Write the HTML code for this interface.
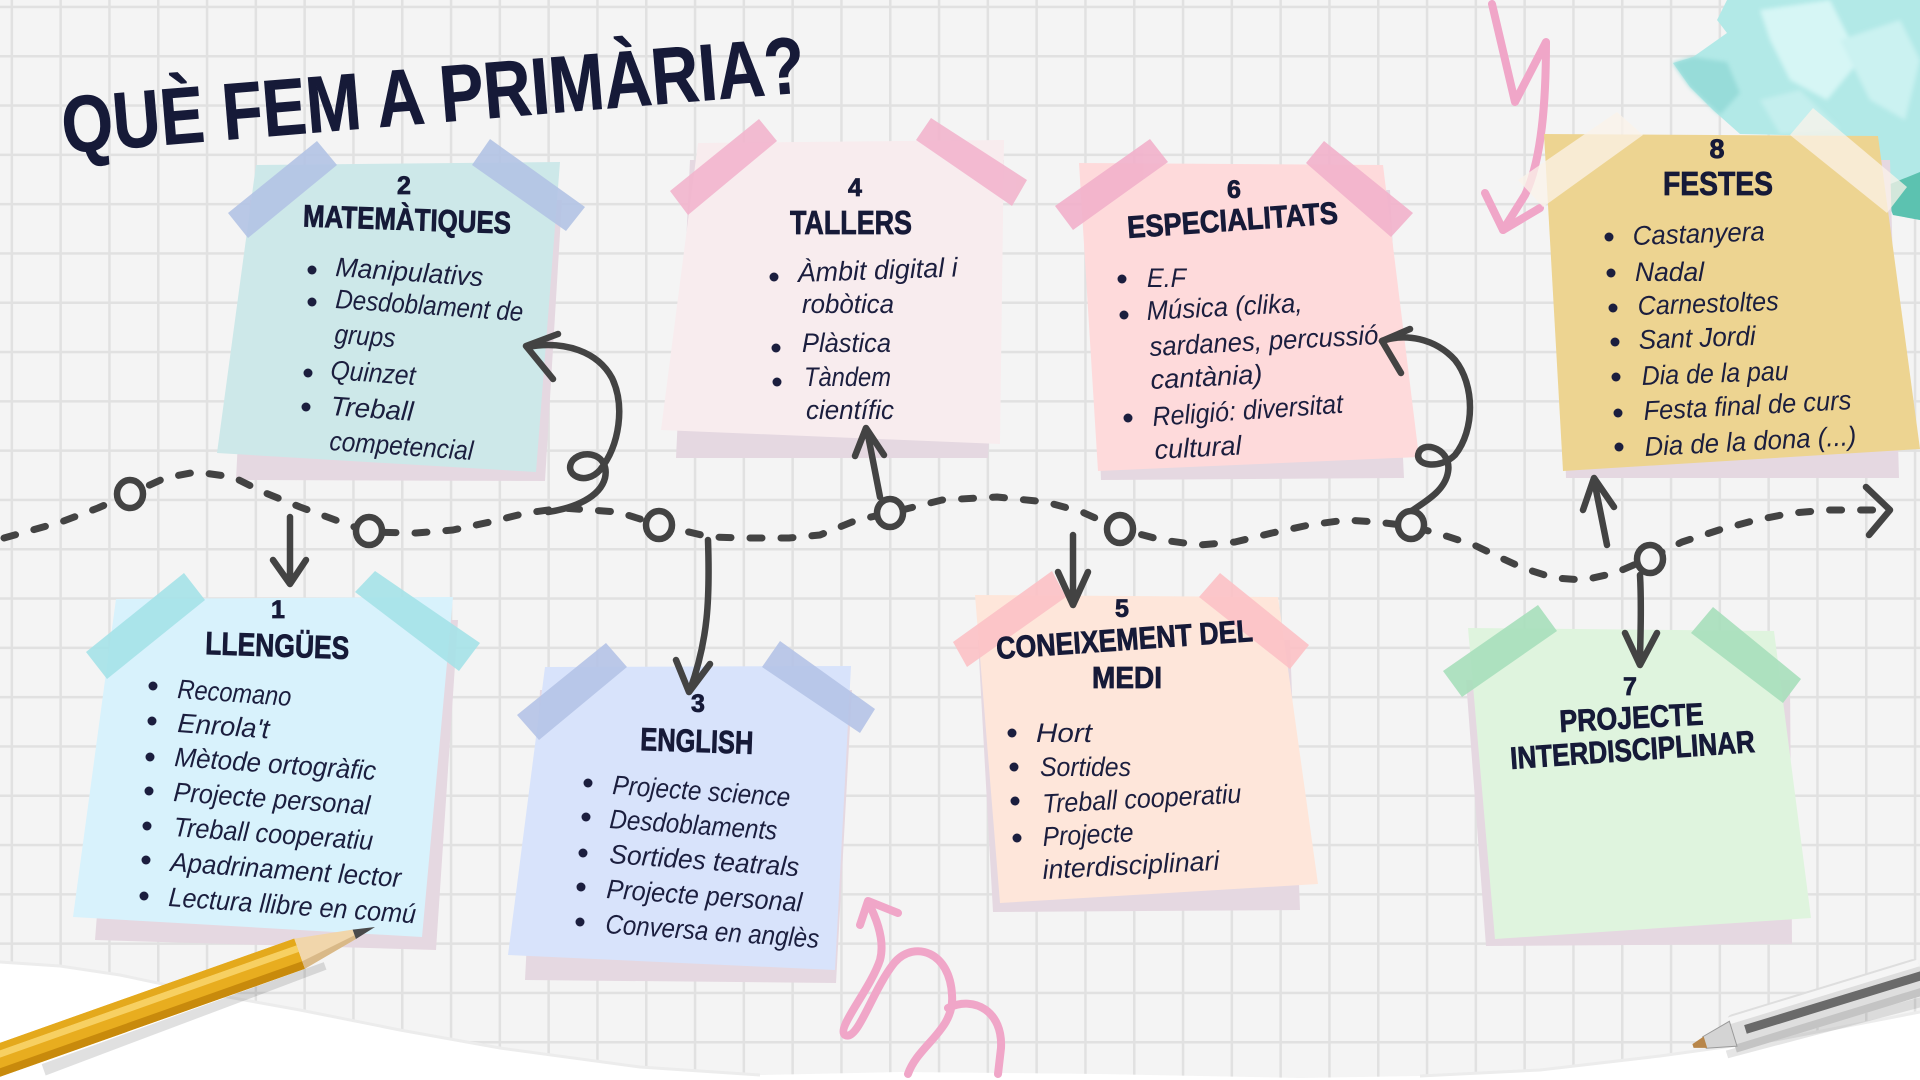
<!DOCTYPE html>
<html><head><meta charset="utf-8">
<style>
html,body{margin:0;padding:0;background:#f3f3f3;width:1920px;height:1080px;overflow:hidden;}
svg{display:block;}
.hd{font-family:"Liberation Sans",sans-serif;font-weight:bold;fill:#161a38;stroke:#161a38;stroke-width:0.8;}
.it{font-family:"Liberation Sans",sans-serif;font-style:italic;font-size:27px;fill:#1b1e3e;}
.bl{fill:#1b1e3e;}
.ln{fill:none;stroke:#434343;stroke-width:6.5;stroke-linecap:round;stroke-linejoin:round;}
.pk{fill:none;stroke:#f0a6c8;stroke-width:8;stroke-linecap:round;stroke-linejoin:round;}
.sh{fill:#e5d8e1;}
</style></head>
<body>
<svg width="1920" height="1080" viewBox="0 0 1920 1080" xmlns="http://www.w3.org/2000/svg">
<defs>
<pattern id="grid" x="10.6" y="5.7" width="48.8" height="49.3" patternUnits="userSpaceOnUse">
<path d="M0 1.25 H48.8 M1.25 0 V49.3" stroke="#e1e1e1" stroke-width="2.5" fill="none"/>
</pattern>
<filter id="soft" x="-10%" y="-10%" width="120%" height="120%"><feGaussianBlur stdDeviation="2"/></filter>
</defs>

<!-- background -->
<rect width="1920" height="1080" fill="#f4f4f4"/>
<rect width="1920" height="1080" fill="url(#grid)"/>

<!-- torn white bottom -->
<path d="M0,962 L60,966 L120,975 L200,992 L300,1010 L400,1030 L500,1048 L640,1067 L760,1075 L900,1072 L1100,1074 L1300,1078 L1420,1076 L1540,1070 L1660,1056 L1775,1040 L1920,1012 L1920,1080 L0,1080 Z" fill="#ffffff"/>
<path d="M0,962 L60,966 L120,975 L200,992 L300,1010 L400,1030 L500,1048 L640,1067 L760,1075 M1420,1076 L1540,1070 L1660,1056 L1775,1040 L1920,1012" fill="none" stroke="#ececec" stroke-width="3"/>

<!-- crumpled teal paper -->
<path d="M1727,0 L1920,0 L1920,220 L1893,215 L1882,190 L1878,137 L1740,134 L1713,110 L1690,87 L1673,63 L1693,57 L1727,33 L1717,20 Z" fill="#b2e9e7"/>
<g filter="url(#soft)">
<path d="M1760,10 L1830,0 L1860,60 L1827,100 L1790,80 L1770,40 Z" fill="#d6f6f5"/>
<path d="M1673,63 L1693,57 L1727,62 L1740,93 L1720,115 L1690,87 Z" fill="#97dcd9"/>
<path d="M1840,40 L1900,20 L1920,60 L1905,120 L1870,100 Z" fill="#cbf2f1"/>
<path d="M1760,100 L1800,90 L1840,130 L1780,134 Z" fill="#c4efee"/>
</g>
<path d="M1883,187 L1920,172 L1920,220 L1893,215 Z" fill="#5cc2b0"/>

<!-- pink arrow top -->
<path class="pk" d="M1492,4 L1515,102 L1546,42 C1546,100 1542,160 1525,195 L1503,230"/>
<path class="pk" d="M1485,193 L1503,230 L1540,208"/>

<!-- pink curl bottom -->
<path class="pk" d="M868,902 C880,925 884,945 880,960 C870,990 836,1028 845,1035 C858,1042 872,990 895,962 C915,940 950,952 952,995 C955,1030 918,1045 908,1074"/>
<path class="pk" d="M948,1008 C975,995 1003,1012 1001,1048 L998,1074"/>
<path class="pk" d="M860,925 L868,901 L898,913"/>

<!-- shadows -->
<polygon class="sh" points="120,620 458,620 436,950 95,940"/>
<polygon class="sh" points="250,200 562,200 545,481 236,480"/>
<polygon class="sh" points="540,690 852,690 836,983 525,980"/>
<polygon class="sh" points="690,160 1004,160 988,458 676,458"/>
<polygon class="sh" points="978,640 1290,640 1300,910 993,912"/>
<polygon class="sh" points="1090,190 1390,190 1404,478 1101,480"/>
<polygon class="sh" points="1466,680 1790,680 1792,944 1486,946"/>
<polygon class="sh" points="1555,160 1890,160 1899,478 1566,478"/>

<!-- notes -->
<polygon points="116,599 453,597 422,937 73,917" fill="#d8f2fc"/>
<polygon points="256,165 560,162 536,472 217,453" fill="#cde8e9"/>
<polygon points="545,667 851,666 835,970 508,955" fill="#d8e3fb"/>
<polygon points="698,143 1004,140 1000,444 661,430" fill="#f8ecee"/>
<polygon points="975,595 1278,597 1318,884 1000,903" fill="#fee6da"/>
<polygon points="1079,163 1383,165 1419,457 1098,471" fill="#fedadb"/>
<polygon points="1468,628 1774,631 1811,918 1495,939" fill="#dff4de"/>
<polygon points="1544,134 1878,136 1920,449 1563,471" fill="#edd491"/>

<!-- tapes -->
<g opacity="0.9">
<polygon points="86,652 184,573 205,600 107,679" fill="#a5e2e8"/>
<polygon points="355,592 375,571 480,643 459,671" fill="#a5e2e8"/>
<polygon points="228,213 317,141 337,165 248,238" fill="#b3c3e4"/>
<polygon points="472,165 490,139 585,207 566,231" fill="#b3c3e4"/>
<polygon points="517,715 606,643 627,667 539,740" fill="#b5c3e7"/>
<polygon points="762,667 780,641 875,709 860,733" fill="#b5c3e7"/>
<polygon points="670,191 759,119 777,141 688,215" fill="#f2b5cd"/>
<polygon points="916,140 931,118 1027,180 1012,206" fill="#f2b5cd"/>
<polygon points="953,642 1052,571 1066,597 967,667" fill="#fcc1c5"/>
<polygon points="1199,597 1220,573 1309,645 1290,669" fill="#fcc1c5"/>
<polygon points="1055,206 1150,139 1168,162 1073,230" fill="#f2b1cb"/>
<polygon points="1306,163 1324,141 1413,213 1391,237" fill="#f2b1cb"/>
<polygon points="1443,671 1538,605 1557,631 1462,697" fill="#a7dfbb"/>
<polygon points="1691,633 1713,607 1801,679 1783,703" fill="#a7dfbb"/>
</g>
<polygon points="1518,180 1617,112 1643,135 1543,207" fill="#fbf3ea" opacity="0.75"/>
<polygon points="1790,135 1813,108 1907,187 1887,213" fill="#fbf3ea" opacity="0.75"/>

<!-- title -->
<text class="hd" x="0" y="0" transform="translate(64,153) rotate(-4.7)" font-size="80" stroke-width="2" textLength="745" lengthAdjust="spacingAndGlyphs">QUÈ FEM A PRIMÀRIA?</text>

<!-- Note 2 -->
<text class="hd" x="404" y="194" font-size="25" text-anchor="middle">2</text>
<text class="hd" x="303" y="230" font-size="31" textLength="208" lengthAdjust="spacingAndGlyphs" transform="rotate(2 407 220)">MATEMÀTIQUES</text>
<circle class="bl" cx="312" cy="270" r="4.5"/>
<text class="it" x="335" y="276" textLength="148" lengthAdjust="spacingAndGlyphs" transform="rotate(4 335 276)">Manipulativs</text>
<circle class="bl" cx="312" cy="302" r="4.5"/>
<text class="it" x="335" y="308" textLength="188" lengthAdjust="spacingAndGlyphs" transform="rotate(4 335 308)">Desdoblament de</text>
<text class="it" x="334" y="343" textLength="61" lengthAdjust="spacingAndGlyphs" transform="rotate(4 334 343)">grups</text>
<circle class="bl" cx="308" cy="373" r="4.5"/>
<text class="it" x="330" y="379" textLength="85" lengthAdjust="spacingAndGlyphs" transform="rotate(4 330 379)">Quinzet</text>
<circle class="bl" cx="306" cy="407" r="4.5"/>
<text class="it" x="330" y="415" textLength="83" lengthAdjust="spacingAndGlyphs" transform="rotate(4 330 415)">Treball</text>
<text class="it" x="329" y="450" textLength="144" lengthAdjust="spacingAndGlyphs" transform="rotate(4 329 450)">competencial</text>

<!-- Note 4 -->
<text class="hd" x="855" y="196" font-size="25" text-anchor="middle">4</text>
<text class="hd" x="790" y="234" font-size="33" textLength="122" lengthAdjust="spacingAndGlyphs">TALLERS</text>
<circle class="bl" cx="774" cy="277" r="4.5"/>
<text class="it" x="798" y="282" textLength="160" lengthAdjust="spacingAndGlyphs" transform="rotate(-2 798 282)">Àmbit digital i</text>
<text class="it" x="802" y="313" textLength="92" lengthAdjust="spacingAndGlyphs">robòtica</text>
<circle class="bl" cx="776" cy="348" r="4.5"/>
<text class="it" x="802" y="352" textLength="89" lengthAdjust="spacingAndGlyphs">Plàstica</text>
<circle class="bl" cx="777" cy="382" r="4.5"/>
<text class="it" x="804" y="386" textLength="87" lengthAdjust="spacingAndGlyphs">Tàndem</text>
<text class="it" x="806" y="419" textLength="88" lengthAdjust="spacingAndGlyphs">científic</text>

<!-- Note 6 -->
<text class="hd" x="1234" y="198" font-size="25" text-anchor="middle">6</text>
<text class="hd" x="1128" y="238" font-size="31" textLength="211" lengthAdjust="spacingAndGlyphs" transform="rotate(-4 1128 238)">ESPECIALITATS</text>
<circle class="bl" cx="1122" cy="279" r="4.5"/>
<text class="it" x="1147" y="287" textLength="39" lengthAdjust="spacingAndGlyphs">E.F</text>
<circle class="bl" cx="1124" cy="315" r="4.5"/>
<text class="it" x="1147" y="320" textLength="156" lengthAdjust="spacingAndGlyphs" transform="rotate(-3 1147 320)">Música (clika,</text>
<text class="it" x="1150" y="356" textLength="229" lengthAdjust="spacingAndGlyphs" transform="rotate(-3 1150 356)">sardanes,  percussió</text>
<text class="it" x="1151" y="389" textLength="112" lengthAdjust="spacingAndGlyphs" transform="rotate(-3 1151 389)">cantània)</text>
<circle class="bl" cx="1128" cy="418" r="4.5"/>
<text class="it" x="1153" y="426" textLength="191" lengthAdjust="spacingAndGlyphs" transform="rotate(-4 1153 426)">Religió: diversitat</text>
<text class="it" x="1155" y="459" textLength="87" lengthAdjust="spacingAndGlyphs" transform="rotate(-3 1155 459)">cultural</text>

<!-- Note 8 -->
<text class="hd" x="1717" y="158" font-size="27" text-anchor="middle">8</text>
<text class="hd" x="1663" y="195" font-size="33" textLength="110" lengthAdjust="spacingAndGlyphs">FESTES</text>
<circle class="bl" cx="1609" cy="237" r="4.5"/>
<text class="it" x="1633" y="245" textLength="132" lengthAdjust="spacingAndGlyphs" transform="rotate(-2 1633 245)">Castanyera</text>
<circle class="bl" cx="1611" cy="273" r="4.5"/>
<text class="it" x="1635" y="281" textLength="69" lengthAdjust="spacingAndGlyphs">Nadal</text>
<circle class="bl" cx="1613" cy="308" r="4.5"/>
<text class="it" x="1638" y="315" textLength="141" lengthAdjust="spacingAndGlyphs" transform="rotate(-2 1638 315)">Carnestoltes</text>
<circle class="bl" cx="1615" cy="342" r="4.5"/>
<text class="it" x="1639" y="349" textLength="117" lengthAdjust="spacingAndGlyphs" transform="rotate(-2 1639 349)">Sant Jordi</text>
<circle class="bl" cx="1616" cy="377" r="4.5"/>
<text class="it" x="1642" y="385" textLength="147" lengthAdjust="spacingAndGlyphs" transform="rotate(-2 1642 385)">Dia de la pau</text>
<circle class="bl" cx="1618" cy="413" r="4.5"/>
<text class="it" x="1644" y="420" textLength="208" lengthAdjust="spacingAndGlyphs" transform="rotate(-3 1644 420)">Festa final de curs</text>
<circle class="bl" cx="1619" cy="447" r="4.5"/>
<text class="it" x="1645" y="456" textLength="212" lengthAdjust="spacingAndGlyphs" transform="rotate(-3 1645 456)">Dia de la dona (...)</text>

<!-- Note 1 -->
<text class="hd" x="278" y="618" font-size="25" text-anchor="middle">1</text>
<text class="hd" x="205" y="654" font-size="32" textLength="144" lengthAdjust="spacingAndGlyphs" transform="rotate(2 205 654)">LLENGÜES</text>
<circle class="bl" cx="153" cy="686" r="4.5"/>
<text class="it" x="177" y="698" textLength="114" lengthAdjust="spacingAndGlyphs" transform="rotate(4 177 698)">Recomano</text>
<circle class="bl" cx="152" cy="721" r="4.5"/>
<text class="it" x="177" y="732" textLength="92" lengthAdjust="spacingAndGlyphs" transform="rotate(4 177 732)">Enrola't</text>
<circle class="bl" cx="150" cy="757" r="4.5"/>
<text class="it" x="174" y="766" textLength="202" lengthAdjust="spacingAndGlyphs" transform="rotate(4 174 766)">Mètode ortogràfic</text>
<circle class="bl" cx="149" cy="791" r="4.5"/>
<text class="it" x="173" y="801" textLength="197" lengthAdjust="spacingAndGlyphs" transform="rotate(4 173 801)">Projecte personal</text>
<circle class="bl" cx="147" cy="826" r="4.5"/>
<text class="it" x="173" y="836" textLength="200" lengthAdjust="spacingAndGlyphs" transform="rotate(4 173 836)">Treball cooperatiu</text>
<circle class="bl" cx="146" cy="860" r="4.5"/>
<text class="it" x="170" y="871" textLength="231" lengthAdjust="spacingAndGlyphs" transform="rotate(4 170 871)">Apadrinament lector</text>
<circle class="bl" cx="144" cy="896" r="4.5"/>
<text class="it" x="168" y="906" textLength="248" lengthAdjust="spacingAndGlyphs" transform="rotate(4 168 906)">Lectura llibre en comú</text>

<!-- Note 3 -->
<text class="hd" x="698" y="712" font-size="25" text-anchor="middle">3</text>
<text class="hd" x="640" y="750" font-size="32" textLength="113" lengthAdjust="spacingAndGlyphs" transform="rotate(2 640 750)">ENGLISH</text>
<circle class="bl" cx="588" cy="783" r="4.5"/>
<text class="it" x="612" y="794" textLength="178" lengthAdjust="spacingAndGlyphs" transform="rotate(4 612 794)">Projecte science</text>
<circle class="bl" cx="586" cy="817" r="4.5"/>
<text class="it" x="609" y="828" textLength="168" lengthAdjust="spacingAndGlyphs" transform="rotate(4 609 828)">Desdoblaments</text>
<circle class="bl" cx="583" cy="853" r="4.5"/>
<text class="it" x="609" y="863" textLength="190" lengthAdjust="spacingAndGlyphs" transform="rotate(4 609 863)">Sortides teatrals</text>
<circle class="bl" cx="581" cy="887" r="4.5"/>
<text class="it" x="606" y="898" textLength="196" lengthAdjust="spacingAndGlyphs" transform="rotate(4 606 898)">Projecte personal</text>
<circle class="bl" cx="580" cy="922" r="4.5"/>
<text class="it" x="605" y="933" textLength="214" lengthAdjust="spacingAndGlyphs" transform="rotate(4 605 933)">Conversa en anglès</text>

<!-- Note 5 -->
<text class="hd" x="1122" y="617" font-size="25" text-anchor="middle">5</text>
<text class="hd" x="997" y="659" font-size="31" textLength="257" lengthAdjust="spacingAndGlyphs" transform="rotate(-4 997 659)">CONEIXEMENT DEL</text>
<text class="hd" x="1092" y="688" font-size="31" textLength="70" lengthAdjust="spacingAndGlyphs">MEDI</text>
<circle class="bl" cx="1012" cy="733" r="4.5"/>
<text class="it" x="1036" y="742" textLength="56" lengthAdjust="spacingAndGlyphs">Hort</text>
<circle class="bl" cx="1014" cy="767" r="4.5"/>
<text class="it" x="1040" y="776" textLength="91" lengthAdjust="spacingAndGlyphs">Sortides</text>
<circle class="bl" cx="1015" cy="801" r="4.5"/>
<text class="it" x="1043" y="813" textLength="199" lengthAdjust="spacingAndGlyphs" transform="rotate(-3 1043 813)">Treball cooperatiu</text>
<circle class="bl" cx="1017" cy="838" r="4.5"/>
<text class="it" x="1043" y="846" textLength="91" lengthAdjust="spacingAndGlyphs" transform="rotate(-3 1043 846)">Projecte</text>
<text class="it" x="1043" y="879" textLength="177" lengthAdjust="spacingAndGlyphs" transform="rotate(-3 1043 879)">interdisciplinari</text>

<!-- Note 7 -->
<text class="hd" x="1630" y="695" font-size="25" text-anchor="middle">7</text>
<text class="hd" x="1560" y="732" font-size="31" textLength="144" lengthAdjust="spacingAndGlyphs" transform="rotate(-3 1560 732)">PROJECTE</text>
<text class="hd" x="1511" y="769" font-size="31" textLength="245" lengthAdjust="spacingAndGlyphs" transform="rotate(-4 1511 769)">INTERDISCIPLINAR</text>

<!-- dashed path -->
<polyline fill="none" stroke="#434343" stroke-width="7" stroke-linecap="round" stroke-linejoin="round" stroke-dasharray="12 19"
points="4,538 61,522 98,508 130,494 165,478 196,472 233,477 263,492 300,507 330,518 368,532 416,533 453,530 490,522 526,513 563,508 618,512 659,525 710,537 747,538 789,538 820,535 857,520 890,513 942,500 997,497 1046,502 1082,512 1120,529 1162,540 1199,545 1235,542 1272,533 1309,525 1346,520 1376,522 1411,526 1443,535 1474,545 1499,557 1523,568 1554,578 1584,580 1615,573 1650,558 1682,542 1719,530 1756,520 1792,513 1829,510 1878,510"/>
<path class="ln" stroke-width="8" d="M1866,487 L1890,510 L1869,535"/>

<!-- connector arrows -->
<path class="ln" d="M290,517 L290,583 M273,560 L290,584 L306,560"/>
<path class="ln" d="M548,512 C575,508 600,497 605,478 C610,455 585,448 573,460 C562,474 585,487 600,470 C620,445 625,405 612,378 C598,352 565,340 527,347"/>
<path class="ln" d="M558,334 L526,346 L553,379"/>
<path class="ln" d="M880,497 L867,430 M855,456 L866,428 L884,455"/>
<path class="ln" d="M708,540 C710,600 708,640 690,690 M676,660 L689,692 L710,664"/>
<path class="ln" d="M1073,535 L1073,604 M1058,572 L1073,605 L1088,572"/>
<path class="ln" d="M1410,512 C1428,500 1445,490 1448,472 C1452,450 1425,440 1419,452 C1413,466 1440,470 1455,455 C1475,430 1475,385 1455,360 C1435,338 1405,333 1382,341"/>
<path class="ln" d="M1410,329 L1382,341 L1401,373"/>
<path class="ln" d="M1607,545 L1594,480 M1583,510 L1594,478 L1614,507"/>
<path class="ln" d="M1640,575 C1642,610 1640,640 1640,665 M1625,633 L1640,665 L1657,633"/>

<!-- circles -->
<g fill="#f4f4f4" stroke="#434343" stroke-width="6.5">
<ellipse cx="130" cy="494" rx="13" ry="14"/>
<ellipse cx="369" cy="531" rx="13" ry="14"/>
<ellipse cx="659" cy="525" rx="13" ry="14"/>
<ellipse cx="890" cy="513" rx="13" ry="14"/>
<ellipse cx="1120" cy="529" rx="13" ry="14"/>
<ellipse cx="1411" cy="525" rx="13" ry="14"/>
<ellipse cx="1650" cy="559" rx="13" ry="14"/>
</g>

<!-- pencil (trimmed to stay within frame) -->
<g transform="translate(375,927) rotate(160.5)">
<polygon points="60,-16 360,-18 360,-30 60,-24" fill="#000" opacity="0.12"/>
<rect x="80" y="-16" width="333" height="32" fill="#e8ad1f"/>
<rect x="80" y="-16" width="333" height="8" fill="#c88a0c"/>
<rect x="80" y="2" width="333" height="7" fill="#f7d062"/>
<rect x="80" y="9" width="333" height="7" fill="#e4a91c"/>
<polygon points="22,-5 80,-16 80,16 22,5" fill="#f1d6ab"/>
<polygon points="22,-5 80,-16 80,-8 22,-1" fill="#d9b988"/>
<polygon points="0,0 22,-5 22,5" fill="#4a4a4a"/>
</g>

<!-- pen (trimmed) -->
<g transform="translate(1693,1046) rotate(-17)">
<polygon points="30,14 240,20 240,30 30,22" fill="#000" opacity="0.1"/>
<rect x="40" y="-19" width="200" height="38" rx="6" fill="#dedede"/>
<rect x="40" y="-17" width="200" height="7" fill="#f5f5f5"/>
<rect x="40" y="11" width="200" height="8" fill="#c4c4c4"/>
<rect x="55" y="-5" width="185" height="9" fill="#6a6a6a"/>
<polygon points="12,-6 42,-13 42,13 12,6" fill="#d4d4d4" stroke="#9a9a9a" stroke-width="1"/>
<polygon points="0,-2 13,-6 13,6 0,2" fill="#b8864a"/>
</g>
</svg>
</body></html>
